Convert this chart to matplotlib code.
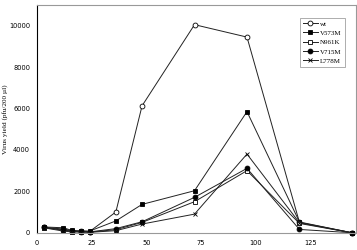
import matplotlib
matplotlib.use('Agg')
import matplotlib.pyplot as plt

# Sampling times (x axis) and virus yields (pfu/200 ul) per strain
hours = [3, 12, 16, 20, 24, 36, 48, 72, 96, 120, 144]
wt = [260, 180, 100, 80, 60, 1000, 6130, 10050, 9450, 500, 0]
V573M = [280, 240, 110, 90, 80, 570, 1370, 2030, 5850, 520, 0]
N961K = [250, 120, 60, 50, 30, 150, 500, 1500, 3000, 450, 0]
V715M = [260, 150, 70, 60, 40, 200, 530, 1710, 3110, 160, 0]
L778M = [240, 80, 40, 30, 20, 100, 420, 900, 3800, 480, 0]

series = [
    ('wt', wt, 'o', 'white'),
    ('V573M', V573M, 's', 'black'),
    ('N961K', N961K, 's', 'white'),
    ('V715M', V715M, 'o', 'black'),
    ('L778M', L778M, 'x', 'black'),
]

fig = plt.figure(figsize=(3.57, 2.5), dpi=100)
ax = fig.add_axes([0.104, 0.069, 0.894, 0.911])

for name, vals, mk, fc in series:
    ax.plot(hours, vals, color='#222222', lw=0.7, marker=mk, ms=3.5,
            mfc=fc, mec='black', mew=0.6, label=name, clip_on=False)

ax.set_xlim(0, 146)
ax.set_ylim(0, 11000)
ax.set_xticks([0, 25, 50, 75, 100, 125])
ax.set_yticks(range(0, 10001, 2000))
ax.tick_params(length=0, labelsize=4.8, pad=5)
ax.set_ylabel('Virus yield (pfu/200 µl)', family='Liberation Serif', fontsize=5.2)
ax.yaxis.set_label_coords(-0.092, 0.5)

for s in ['top', 'bottom', 'right']:
    ax.spines[s].set_color('#999999')
    ax.spines[s].set_linewidth(0.8)
ax.spines['left'].set_linewidth(0.8)

leg = ax.legend(loc='upper right', bbox_to_anchor=(0.975, 0.96),
                prop={'family': 'Liberation Serif', 'size': 5},
                frameon=True, fancybox=False, edgecolor='#888888',
                handlelength=2.2, handletextpad=0.3, labelspacing=0.5,
                borderpad=0.45)
leg.get_frame().set_linewidth(0.6)

fig.savefig('out.png', dpi=100)
